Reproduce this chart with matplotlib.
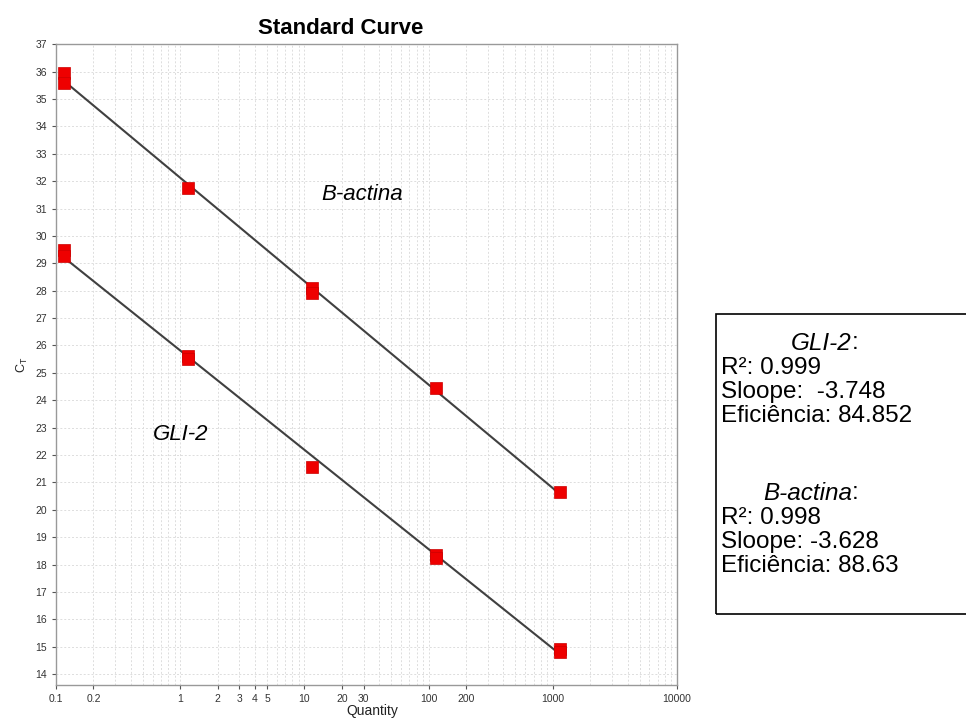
import numpy as np
import matplotlib
matplotlib.use("Agg")
import matplotlib.pyplot as plt
from matplotlib.patches import Rectangle
from matplotlib.ticker import FixedLocator, NullFormatter

# ---- data ----
bact_qty = [0.115, 0.115, 1.15, 11.5, 11.5, 115, 1150]
bact_ct = [35.95, 35.6, 31.75, 28.1, 27.9, 24.45, 20.63]
gli_qty = [0.115, 0.115, 1.15, 1.15, 11.5, 115, 115, 1150, 1150]
gli_ct = [29.5, 29.25, 25.6, 25.5, 21.55, 18.35, 18.25, 14.92, 14.8]

xtick_vals = [0.1, 0.2, 1, 2, 3, 4, 5, 10, 20, 30, 100, 200, 1000, 10000]
xtick_labels = ["0.1", "0.2", "1", "2", "3", "4", "5", "10", "20", "30", "100", "200", "1000", "10000"]
ytick_vals = list(range(14, 38))

box_lines_gli = ["R\u00b2: 0.999", "Sloope:  -3.748", "Efici\u00eancia: 84.852"]
box_lines_bact = ["R\u00b2: 0.998", "Sloope: -3.628", "Efici\u00eancia: 88.63"]

plt.rcParams['font.family'] = ['Liberation Sans', 'DejaVu Sans']

W, H = 966, 724
fig = plt.figure(figsize=(W / 100, H / 100), dpi=100)
ax = fig.add_axes([56 / W, 1 - 684.7 / H, (677 - 56) / W, (684.7 - 44.3) / H])

ax.set_xscale('log')
ax.set_xlim(0.1, 10000)
ax.set_ylim(13.61, 37.0)

# grid
minor = [m * 10.0 ** e for e in range(-1, 4) for m in range(2, 10)]
ax.xaxis.set_major_locator(FixedLocator(xtick_vals))
ax.xaxis.set_minor_locator(FixedLocator(minor))
ax.xaxis.set_minor_formatter(NullFormatter())
ax.set_xticklabels(xtick_labels)
ax.set_yticks(ytick_vals)
ax.grid(True, which='both', axis='x', color='#dddddd', linestyle=(0, (2, 2)), linewidth=0.7)
ax.grid(True, which='major', axis='y', color='#dddddd', linestyle=(0, (2, 2)), linewidth=0.7)
ax.set_axisbelow(True)
ax.tick_params(axis='both', which='major', labelsize=7.5, colors='#555555', labelcolor='#333333', length=3, width=0.8)
ax.tick_params(axis='x', which='minor', length=0)
for s in ax.spines.values():
    s.set_color('#999999')
    s.set_linewidth(1.0)

# fit lines and points
for q, c in [(bact_qty, bact_ct), (gli_qty, gli_ct)]:
    lx = np.log10(q)
    m, b = np.polyfit(lx, c, 1)
    xs = np.array([min(lx), max(lx)])
    ax.plot(10 ** xs, m * xs + b, color='#404040', linewidth=1.5, zorder=2)
    ax.plot(q, c, linestyle='none', marker='s', markersize=8, color='#ee0000',
            markeredgecolor='#cc0000', markeredgewidth=0.5, zorder=3)

ax.text(362 / W, 1 - 194 / H, "B-actina", transform=fig.transFigure, fontsize=16,
        style='italic', ha='center', va='center')
ax.text(181 / W, 1 - 434 / H, "GLI-2", transform=fig.transFigure, fontsize=16,
        style='italic', ha='center', va='center')

ax.set_xlabel("Quantity", fontsize=10, color='#222222')
ax.xaxis.set_label_coords(0.51, -0.03)
fig.text(22 / W, 1 - 365 / H, "C$_\\mathregular{T}$", rotation=90, fontsize=9,
         ha='center', va='center', color='#222222')
fig.text(341 / W, 1 - 28 / H, "Standard Curve", fontsize=16, fontweight='bold',
         ha='center', va='center')

# statistics box
fig.patches.append(Rectangle((716 / W, 1 - 614 / H), 300 / W, 300 / H,
                             transform=fig.transFigure, fill=False,
                             edgecolor='black', linewidth=1.2))
fs = 17.5
step = 24.5
y0 = 343
fig.text(852 / W, 1 - y0 / H, "GLI-2", fontsize=fs, style='italic', ha='right', va='center')
fig.text(852 / W, 1 - y0 / H, ":", fontsize=fs, ha='left', va='center')
for i, t in enumerate(box_lines_gli):
    fig.text(721 / W, 1 - (y0 + step * (i + 1)) / H, t, fontsize=fs, ha='left', va='center')
y1 = 493
fig.text(852 / W, 1 - y1 / H, "B-actina", fontsize=fs, style='italic', ha='right', va='center')
fig.text(852 / W, 1 - y1 / H, ":", fontsize=fs, ha='left', va='center')
for i, t in enumerate(box_lines_bact):
    fig.text(721 / W, 1 - (y1 + step * (i + 1)) / H, t, fontsize=fs, ha='left', va='center')

fig.savefig("out.png", dpi=100)
